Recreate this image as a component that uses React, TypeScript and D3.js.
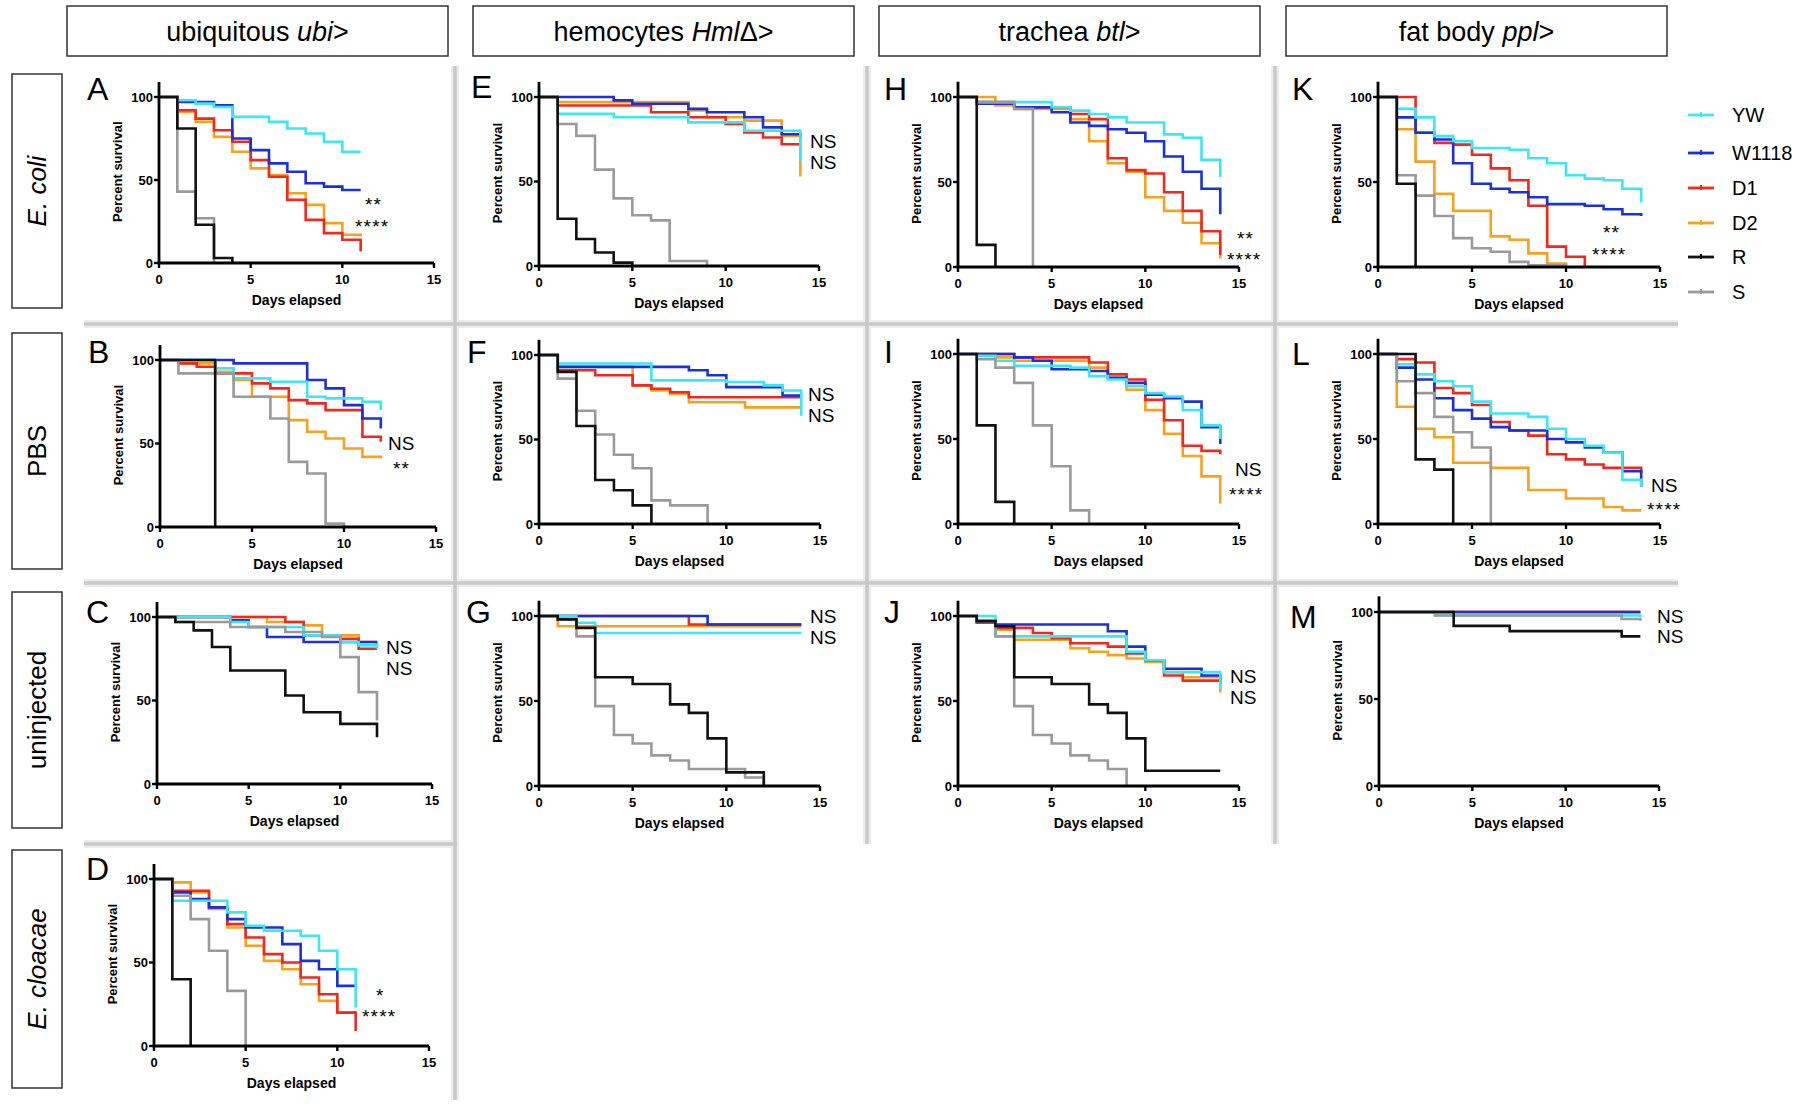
import React from "react";
import * as d3 from "d3";

type Pt = [number, number];
type Panel = Record<string, Pt[]>;

const SERIES = ["YW", "W1118", "D1", "D2", "R", "S"];
const DRAW_ORDER = ["D2", "D1", "W1118", "YW", "S", "R"];
const X_TICKS = [0, 5, 10, 15];
const Y_TICKS = [0, 50, 100];

const COLUMN_TITLES = [
  { pre: "ubiquitous ", it: "ubi", post: ">" },
  { pre: "hemocytes ", it: "Hml", post: "Δ>" },
  { pre: "trachea ", it: "btl", post: ">" },
  { pre: "fat body ", it: "ppl", post: ">" },
];
const ROW_TITLES = [
  { text: "E. coli", italic: true },
  { text: "PBS", italic: false },
  { text: "uninjected", italic: false },
  { text: "E. cloacae", italic: true },
];

// ---- survival data (day, percent survival) ----
const panelA: Panel = {
  YW: [[0, 100], [1, 98], [2, 96], [3, 94], [4, 88], [6, 85], [7, 81], [8, 78], [9, 73], [10, 67], [11, 67]],
  W1118: [[0, 100], [1, 97], [3, 95], [4, 75], [5, 68], [6, 60], [7, 55], [8, 48], [9, 46], [10, 44], [11, 44]],
  D1: [[0, 100], [1, 92], [2, 87], [3, 80], [4, 73], [5, 62], [6, 52], [7, 38], [8, 26], [9, 18], [10, 14], [11, 7]],
  D2: [[0, 100], [1, 91], [2, 85], [3, 76], [4, 67], [5, 57], [6, 53], [7, 42], [8, 35], [9, 24], [10, 17], [11, 16]],
  R: [[0, 100], [1, 81], [2, 23], [3, 3], [4, 0]],
  S: [[0, 100], [1, 43], [2, 27], [3, 0]],
};
const panelE: Panel = {
  YW: [[0, 100], [1, 90], [4, 88], [8, 85], [11, 80], [14, 62]],
  W1118: [[0, 100], [4, 98], [5, 96], [8, 93], [9, 91], [11, 88], [12, 82], [13, 78], [14, 76]],
  D1: [[0, 100], [1, 95], [6, 91], [8, 88], [10, 84], [11, 79], [12, 76], [13, 72], [14, 72]],
  D2: [[0, 100], [1, 97], [8, 92], [9, 88], [11, 86], [13, 77], [14, 53]],
  R: [[0, 100], [1, 28], [2, 16], [3, 8], [4, 2], [5, 0]],
  S: [[0, 100], [1, 84], [2, 77], [3, 57], [4, 40], [5, 30], [6, 27], [7, 3], [9, 0]],
};
const panelH: Panel = {
  YW: [[0, 100], [1, 97], [5, 94], [6, 92], [7, 90], [8, 88], [9, 85], [11, 78], [12, 76], [13, 63], [14, 53]],
  W1118: [[0, 100], [1, 96], [3, 94], [5, 91], [6, 85], [7, 83], [8, 81], [9, 79], [10, 74], [11, 65], [12, 56], [13, 46], [14, 31]],
  D1: [[0, 100], [1, 97], [3, 94], [6, 90], [7, 87], [8, 64], [9, 57], [10, 55], [11, 44], [12, 33], [13, 21], [14, 7]],
  D2: [[0, 100], [2, 95], [3, 93], [6, 87], [7, 74], [8, 61], [9, 56], [10, 41], [11, 33], [12, 26], [13, 14], [14, 5]],
  R: [[0, 100], [1, 13], [2, 0]],
  S: [[0, 100], [1, 97], [3, 93], [4, 0]],
};
const panelK: Panel = {
  YW: [[0, 100], [1, 93], [2, 88], [3, 77], [4, 74], [5, 70], [7, 69], [8, 64], [9, 61], [10, 54], [11, 52], [12, 51], [13, 46], [14, 38]],
  W1118: [[0, 100], [1, 88], [2, 79], [3, 75], [4, 61], [5, 49], [6, 46], [7, 44], [8, 41], [9, 37], [11, 36], [12, 34], [13, 31], [14, 30]],
  D1: [[0, 100], [2, 79], [3, 73], [4, 72], [5, 66], [6, 58], [7, 51], [8, 36], [9, 12], [10, 6], [11, 0]],
  D2: [[0, 100], [1, 81], [2, 62], [3, 43], [4, 33], [6, 18], [7, 16], [8, 8], [9, 2], [10, 0]],
  R: [[0, 100], [1, 49], [2, 0]],
  S: [[0, 100], [1, 54], [2, 42], [3, 30], [4, 17], [5, 11], [6, 9], [7, 3], [8, 1], [10, 0]],
};
const panelB: Panel = {
  YW: [[0, 100], [3, 95], [4, 89], [6, 87], [8, 78], [9, 77], [11, 75], [12, 70]],
  W1118: [[0, 100], [4, 98], [8, 88], [9, 83], [10, 73], [11, 65], [12, 59]],
  D1: [[0, 100], [1, 98], [2, 96], [3, 92], [5, 86], [6, 83], [7, 76], [8, 74], [9, 70], [11, 54], [12, 51]],
  D2: [[0, 100], [1, 98], [3, 93], [4, 88], [5, 78], [7, 64], [8, 57], [9, 53], [10, 47], [11, 42], [12, 41]],
  R: [[0, 100], [3, 0]],
  S: [[0, 100], [1, 92], [4, 78], [6, 65], [7, 39], [8, 32], [9, 2], [10, 0]],
};
const panelF: Panel = {
  YW: [[0, 100], [1, 95], [6, 85], [10, 84], [12, 82], [13, 79], [14, 64]],
  W1118: [[0, 100], [1, 93], [8, 91], [9, 88], [10, 81], [13, 76], [14, 76]],
  D1: [[0, 100], [1, 91], [3, 88], [5, 82], [6, 80], [7, 78], [8, 75], [14, 75]],
  D2: [[0, 100], [1, 93], [5, 82], [6, 79], [7, 77], [8, 72], [11, 69], [14, 69]],
  R: [[0, 100], [1, 90], [2, 58], [3, 26], [4, 20], [5, 11], [6, 0]],
  S: [[0, 100], [1, 86], [2, 67], [3, 53], [4, 41], [5, 33], [6, 14], [7, 11], [9, 0]],
};
const panelI: Panel = {
  YW: [[0, 100], [1, 99], [2, 96], [3, 93], [6, 92], [7, 87], [8, 85], [9, 81], [10, 77], [11, 75], [12, 67], [13, 58], [14, 50]],
  W1118: [[0, 100], [3, 98], [4, 96], [5, 91], [7, 90], [8, 86], [9, 83], [10, 76], [11, 74], [12, 72], [13, 57], [14, 47]],
  D1: [[0, 100], [3, 98], [7, 95], [8, 88], [9, 85], [10, 73], [11, 61], [12, 46], [13, 43], [14, 41]],
  D2: [[0, 100], [2, 98], [3, 96], [7, 92], [8, 86], [9, 79], [10, 67], [11, 53], [12, 40], [13, 28], [14, 12]],
  R: [[0, 100], [1, 58], [2, 13], [3, 0]],
  S: [[0, 100], [1, 97], [2, 92], [3, 83], [4, 58], [5, 34], [6, 8], [7, 0]],
};
const panelL: Panel = {
  YW: [[0, 100], [1, 94], [2, 88], [3, 84], [4, 81], [5, 72], [6, 65], [8, 63], [9, 56], [10, 50], [11, 46], [12, 42], [13, 26], [14, 22]],
  W1118: [[0, 100], [1, 92], [2, 85], [3, 74], [4, 67], [5, 62], [6, 57], [7, 55], [9, 50], [10, 48], [11, 45], [12, 42], [13, 31], [14, 22]],
  D1: [[0, 100], [1, 97], [2, 95], [3, 80], [4, 77], [5, 70], [6, 60], [7, 55], [8, 52], [9, 41], [10, 38], [11, 35], [12, 33], [14, 30]],
  D2: [[0, 100], [1, 69], [2, 56], [3, 51], [4, 36], [6, 33], [8, 20], [10, 15], [12, 10], [13, 8], [14, 8]],
  R: [[0, 100], [2, 38], [3, 32], [4, 0]],
  S: [[0, 100], [1, 84], [2, 77], [3, 63], [4, 54], [5, 45], [6, 0]],
};
const panelC: Panel = {
  YW: [[0, 100], [4, 97], [5, 94], [8, 89], [10, 85], [11, 83], [12, 81]],
  W1118: [[0, 100], [4, 98], [5, 94], [6, 88], [8, 85], [12, 85]],
  D1: [[0, 100], [7, 97], [8, 89], [10, 87], [11, 81], [12, 81]],
  D2: [[0, 100], [6, 97], [8, 95], [9, 89], [11, 85], [12, 83]],
  R: [[0, 100], [1, 97], [2, 92], [3, 82], [4, 68], [7, 53], [8, 43], [10, 36], [12, 28]],
  S: [[0, 100], [1, 97], [4, 94], [7, 91], [9, 88], [10, 76], [11, 55], [12, 38]],
};
const panelG: Panel = {
  YW: [[0, 100], [2, 96], [3, 90], [14, 90]],
  W1118: [[0, 100], [9, 95], [14, 95]],
  D1: [[0, 100], [8, 95], [14, 95]],
  D2: [[0, 100], [1, 94], [14, 94]],
  R: [[0, 100], [1, 98], [2, 93], [3, 64], [5, 60], [7, 48], [8, 43], [9, 28], [10, 8], [12, 0]],
  S: [[0, 100], [1, 98], [2, 88], [3, 47], [4, 30], [5, 25], [6, 18], [7, 15], [8, 10], [11, 5], [12, 0]],
};
const panelJ: Panel = {
  YW: [[0, 100], [2, 88], [9, 79], [10, 74], [11, 67], [14, 57]],
  W1118: [[0, 100], [1, 97], [2, 95], [8, 91], [9, 82], [10, 74], [11, 69], [13, 65], [14, 62]],
  D1: [[0, 100], [1, 96], [2, 93], [4, 90], [5, 87], [6, 84], [8, 82], [9, 78], [10, 74], [11, 65], [12, 62], [14, 60]],
  D2: [[0, 100], [1, 97], [2, 92], [3, 86], [6, 81], [7, 79], [8, 77], [9, 75], [10, 73], [11, 67], [12, 64], [14, 55]],
  R: [[0, 100], [1, 97], [2, 94], [3, 64], [5, 60], [7, 48], [8, 43], [9, 28], [10, 9], [14, 9]],
  S: [[0, 100], [1, 97], [2, 88], [3, 47], [4, 30], [5, 25], [6, 18], [7, 15], [8, 10], [9, 0]],
};
const panelM: Panel = {
  YW: [[0, 100], [3, 98], [14, 97]],
  W1118: [[0, 100], [14, 100]],
  D1: [[0, 100], [14, 100]],
  D2: [[0, 100], [14, 100]],
  R: [[0, 100], [4, 92], [7, 89], [13, 86], [14, 86]],
  S: [[0, 100], [3, 98], [13, 96], [14, 95]],
};
const panelD: Panel = {
  YW: [[0, 100], [1, 87], [4, 80], [5, 72], [6, 69], [8, 66], [9, 57], [10, 46], [11, 23]],
  W1118: [[0, 100], [1, 92], [2, 88], [3, 83], [4, 76], [5, 71], [7, 61], [8, 51], [9, 46], [10, 36], [11, 36]],
  D1: [[0, 100], [1, 93], [3, 83], [4, 73], [5, 65], [6, 55], [7, 50], [8, 41], [9, 31], [10, 20], [11, 9]],
  D2: [[0, 100], [1, 98], [2, 92], [3, 82], [4, 71], [5, 60], [6, 51], [7, 46], [8, 37], [9, 27], [10, 20], [11, 20]],
  R: [[0, 100], [1, 40], [2, 0]],
  S: [[0, 100], [1, 90], [2, 76], [3, 57], [4, 33], [5, 0]],
};

const marksA = ["**", "****"];
const marksE = ["NS", "NS"];
const marksH = ["**", "****"];
const marksK = ["**", "****"];
const marksB = ["NS", "**"];
const marksF = ["NS", "NS"];
const marksI = ["NS", "****"];
const marksL = ["NS", "****"];
const marksC = ["NS", "NS"];
const marksG = ["NS", "NS"];
const marksJ = ["NS", "NS"];
const marksM = ["NS", "NS"];
const marksD = ["*", "****"];

// ---- styles / layout ----
const COLORS: Record<string, string> = {
  YW: "#3ce6f2",
  W1118: "#1b30d8",
  D1: "#f0281e",
  D2: "#f5a21e",
  R: "#111111",
  S: "#9a9a9a",
};
const FONT = "'Liberation Sans', Arial, Helvetica, sans-serif";

type Layout = {
  id: string;
  data: Panel;
  marks: string[];
  x0: number; x15: number; y100: number; y0: number;
  lx: number; ly: number;
  ann: [number, number][];
};

const PANELS: Layout[] = [
  { id: "A", data: panelA, marks: marksA, x0: 159, x15: 434, y100: 97, y0: 263, lx: 87, ly: 100, ann: [[365, 200], [355, 222]] },
  { id: "E", data: panelE, marks: marksE, x0: 539, x15: 819, y100: 97, y0: 266, lx: 471, ly: 98, ann: [[810, 141], [810, 162]] },
  { id: "H", data: panelH, marks: marksH, x0: 958, x15: 1239, y100: 97, y0: 267, lx: 884, ly: 100, ann: [[1237, 234], [1227, 255]] },
  { id: "K", data: panelK, marks: marksK, x0: 1378, x15: 1660, y100: 97, y0: 267, lx: 1292, ly: 100, ann: [[1603, 228], [1592, 250]] },
  { id: "B", data: panelB, marks: marksB, x0: 160, x15: 436, y100: 360, y0: 527, lx: 88, ly: 363, ann: [[388, 443], [393, 464]] },
  { id: "F", data: panelF, marks: marksF, x0: 539, x15: 820, y100: 355, y0: 524, lx: 467, ly: 363, ann: [[808, 394], [808, 415]] },
  { id: "I", data: panelI, marks: marksI, x0: 958, x15: 1239, y100: 354, y0: 524, lx: 884, ly: 363, ann: [[1235, 469], [1229, 490]] },
  { id: "L", data: panelL, marks: marksL, x0: 1378, x15: 1660, y100: 354, y0: 524, lx: 1292, ly: 365, ann: [[1651, 485], [1647, 505]] },
  { id: "C", data: panelC, marks: marksC, x0: 157, x15: 432, y100: 617, y0: 784, lx: 86, ly: 623, ann: [[386, 647], [386, 668]] },
  { id: "G", data: panelG, marks: marksG, x0: 539, x15: 820, y100: 616, y0: 786, lx: 466, ly: 623, ann: [[810, 616], [810, 637]] },
  { id: "J", data: panelJ, marks: marksJ, x0: 958, x15: 1239, y100: 616, y0: 786, lx: 884, ly: 623, ann: [[1230, 676], [1230, 697]] },
  { id: "M", data: panelM, marks: marksM, x0: 1379, x15: 1659, y100: 612, y0: 786, lx: 1290, ly: 628, ann: [[1657, 616], [1657, 636]] },
  { id: "D", data: panelD, marks: marksD, x0: 154, x15: 429, y100: 879, y0: 1046, lx: 86, ly: 880, ann: [[376, 991], [362, 1012]] },
];

const COL_BOXES = [67, 473, 879, 1286];
const COL_W = 381;
const ROW_BOXES: [number, number][] = [[74, 308], [333, 569], [592, 828], [850, 1088]];

function SurvivalPanel({ p }: { p: Layout }) {
  const x = d3.scaleLinear().domain([0, 15]).range([p.x0, p.x15]);
  const y = d3.scaleLinear().domain([0, 100]).range([p.y0, p.y100]);
  const line = d3
    .line<Pt>()
    .x((d) => x(d[0]))
    .y((d) => y(d[1]))
    .curve(d3.curveStepAfter);
  const tickFont = { fontFamily: FONT, fontWeight: 700, fontSize: 13 } as const;
  return (
    <g>
      <text x={p.lx} y={p.ly} fontFamily={FONT} fontSize={32}>{p.id}</text>
      {DRAW_ORDER.map((s) => (
        <path key={s} d={line(p.data[s]) || ""} fill="none" stroke={COLORS[s]} strokeWidth={2.6} strokeLinejoin="miter" />
      ))}
      {/* axes */}
      <line x1={p.x0} x2={p.x0} y1={y(0)} y2={y(109)} stroke="#000" strokeWidth={2.8} />
      <line x1={p.x0 - 1.4} x2={p.x15} y1={y(0)} y2={y(0)} stroke="#000" strokeWidth={2.8} />
      {Y_TICKS.map((t) => (
        <g key={"y" + t}>
          <line x1={p.x0 - 5} x2={p.x0} y1={y(t)} y2={y(t)} stroke="#000" strokeWidth={2.4} />
          <text x={p.x0 - 6} y={y(t) + 4.5} textAnchor="end" {...tickFont}>{t}</text>
        </g>
      ))}
      {X_TICKS.map((t) => (
        <g key={"x" + t}>
          <line x1={x(t)} x2={x(t)} y1={y(0)} y2={y(0) + 5} stroke="#000" strokeWidth={2.4} />
          <text x={x(t)} y={y(0) + 21} textAnchor="middle" {...tickFont}>{t}</text>
        </g>
      ))}
      <text
        transform={`translate(${p.x0 - 37},${y(55)}) rotate(-90)`}
        textAnchor="middle"
        fontFamily={FONT}
        fontWeight={700}
        fontSize={13}
      >
        Percent survival
      </text>
      <text x={(p.x0 + p.x15) / 2} y={y(0) + 42} textAnchor="middle" fontFamily={FONT} fontWeight={700} fontSize={14}>
        Days elapsed
      </text>
      {p.marks.map((m, i) => {
        const star = m.indexOf("*") >= 0;
        const [ax, ay] = p.ann[i];
        return (
          <text
            key={i}
            x={ax}
            y={ay + (star ? 11 : 7)}
            fontFamily={FONT}
            fontSize={star ? 19 : 19}
            letterSpacing={star ? 1.2 : 0}
          >
            {m}
          </text>
        );
      })}
    </g>
  );
}

function Legend() {
  const ys = [115, 153, 188, 223, 257, 292];
  return (
    <g>
      {SERIES.map((s, i) => (
        <g key={s}>
          <line x1={1688} x2={1714} y1={ys[i]} y2={ys[i]} stroke={COLORS[s]} strokeWidth={2.8} />
          <line x1={1701} x2={1701} y1={ys[i] - 3} y2={ys[i] + 2} stroke={COLORS[s]} strokeWidth={2} />
          <text x={1732} y={ys[i] + 7} fontFamily={FONT} fontSize={20}>{s}</text>
        </g>
      ))}
    </g>
  );
}

function Separators() {
  const segs: [number, number, number, number][] = [
    [84, 324, 1678, 324],
    [84, 583, 1678, 583],
    [84, 844, 457, 844],
    [455, 66, 455, 1100],
    [867, 66, 867, 844],
    [1275, 66, 1275, 844],
  ];
  return (
    <g>
      {segs.map((s, i) => (
        <line key={"o" + i} x1={s[0]} y1={s[1]} x2={s[2]} y2={s[3]} stroke="#ececec" strokeWidth={8} />
      ))}
      {segs.map((s, i) => (
        <line key={"i" + i} x1={s[0]} y1={s[1]} x2={s[2]} y2={s[3]} stroke="#c9c9c9" strokeWidth={3.5} />
      ))}
    </g>
  );
}

export default function App() {
  return (
    <svg
      width={1800}
      height={1109}
      viewBox="0 0 1800 1109"
      style={{ position: "absolute", left: 0, top: 0, background: "#fff", display: "block" }}
    >
      <rect x={0} y={0} width={1800} height={1109} fill="#fff" />
      <Separators />
      {COLUMN_TITLES.map((c, i) => (
        <g key={i}>
          <rect x={COL_BOXES[i]} y={6} width={COL_W} height={50} fill="#fff" stroke="#333" strokeWidth={1.5} />
          <text x={COL_BOXES[i] + COL_W / 2} y={41} textAnchor="middle" fontFamily={FONT} fontSize={27}>
            {c.pre}
            <tspan fontStyle="italic">{c.it}</tspan>
            {c.post}
          </text>
        </g>
      ))}
      {ROW_TITLES.map((r, i) => {
        const [t, b] = ROW_BOXES[i];
        return (
          <g key={i}>
            <rect x={12} y={t} width={50} height={b - t} fill="#fff" stroke="#333" strokeWidth={1.5} />
            <text
              transform={`translate(46,${(t + b) / 2}) rotate(-90)`}
              textAnchor="middle"
              fontFamily={FONT}
              fontSize={26}
              fontStyle={r.italic ? "italic" : "normal"}
            >
              {r.text}
            </text>
          </g>
        );
      })}
      {PANELS.map((p) => (
        <SurvivalPanel key={p.id} p={p} />
      ))}
      <Legend />
    </svg>
  );
}
